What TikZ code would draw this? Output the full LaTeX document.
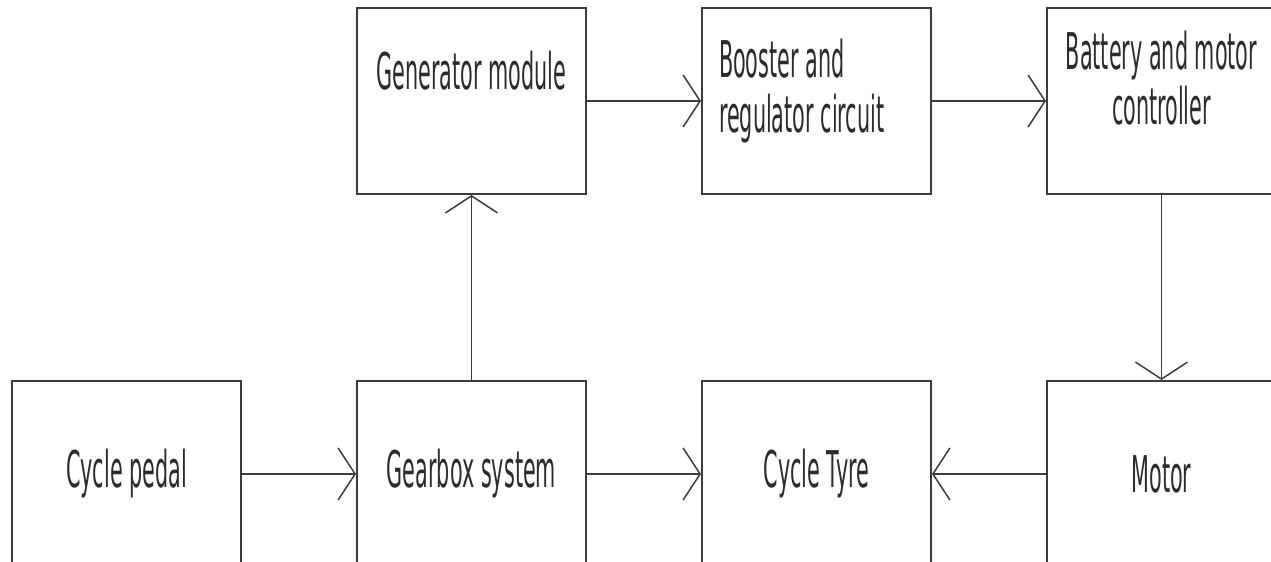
\documentclass[tikz,border=0pt]{standalone}
\usepackage{fontspec}
\usepackage{tikz}
\usetikzlibrary{positioning,arrows.meta}
\newfontfamily\cadfont[FakeStretch=0.41]{DejaVu Sans}
\definecolor{linegray}{HTML}{3C3C3C}
\definecolor{textgray}{HTML}{2B2B2B}

\begin{document}
\begin{tikzpicture}[
  blk/.style={draw=linegray,line width=0.4mm,minimum width=45.8mm,minimum height=37.2mm,inner sep=0pt,text=textgray,font=\cadfont\fontsize{28.8pt}{31pt}\selectfont},
  lift/.style={text height=8mm,text depth=#1},
  arr/.style={-{Straight Barb[length=3.4mm,width=10.4mm]},line width=0.3mm,draw=linegray},
  node distance=37mm and 22.8mm
]
\useasboundingbox (0,0) rectangle (254.2mm,-112.4mm);
\clip (0,0) rectangle (254.2mm,-112.4mm);
\node[blk] (pedal) at (25.3mm,-94.8mm) {Cycle pedal};
\node[blk,right=of pedal] (gear) {Gearbox system};
\node[blk,right=of gear] (tyre) {Cycle Tyre};
\node[blk,right=of tyre] (motor) {Motor};
\node[blk,above=of gear,lift=12.4mm] (gen) {Generator module};
\node[blk,above=of tyre,text width=39mm,align=flush left,lift=17.2mm] (boost) {Booster and\\regulator circuit};
\node[blk,above=of motor,text width=44mm,align=flush center,lift=20.4mm] (batt) {Battery and motor\\controller};
\draw[arr] (pedal) -- (gear);
\draw[arr] (gear) -- (tyre);
\draw[arr] (motor) -- (tyre);
\draw[arr] (gear) -- (gen);
\draw[arr] (gen) -- (boost);
\draw[arr] (boost) -- (batt);
\draw[arr] (batt) -- (motor);
\end{tikzpicture}
\end{document}
